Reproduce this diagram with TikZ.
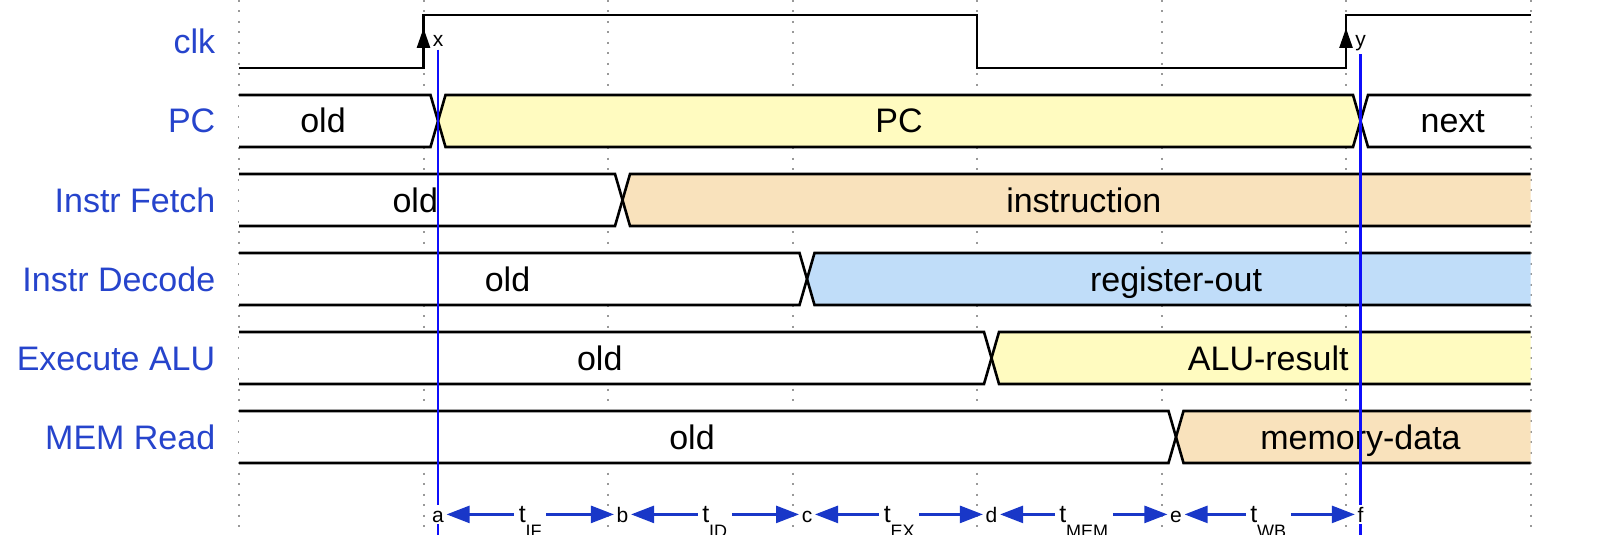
\documentclass[tikz,border=0pt]{standalone}
\usepackage{fontspec}
\setmainfont{Liberation Sans}
\usetikzlibrary{arrows.meta}

\definecolor{sigblue}{RGB}{38,68,204}
\definecolor{markblue}{RGB}{15,15,250}
\definecolor{arrblue}{RGB}{25,55,200}
\definecolor{valyellow}{RGB}{255,251,192}
\definecolor{valpeach}{RGB}{249,226,188}
\definecolor{valblue}{RGB}{192,221,249}

\newcommand{\delaysub}[1]{\raisebox{-7.5pt}[0pt][0pt]{\fontsize{9}{10}\selectfont#1}}

\tikzset{every picture/.style={line width=0.75pt}}

\begin{document}
\begin{tikzpicture}[x=0.5pt, y=-0.5pt,
    sigwave/.style={black, line width=1.3pt},
    gridline/.style={black!40, line width=1pt, dash pattern=on 1pt off 4.25pt},
    signame/.style={sigblue, anchor=base east, inner sep=0pt, font=\fontsize{17}{20}\selectfont},
    sigvalue/.style={black, anchor=base, inner sep=0pt, font=\fontsize{17}{20}\selectfont},
    edgelabel/.style={black, anchor=base, inner sep=1pt, font=\fontsize{10.5}{12}\selectfont},
    ticklabel/.style={black, fill=white, anchor=base, inner sep=1pt,
                      text height=7.6pt, text depth=0pt, font=\fontsize{10.5}{12}\selectfont},
    delaylabel/.style={black, anchor=base, inner sep=2pt,
                       text height=7.6pt, text depth=0pt, font=\fontsize{12.5}{14}\selectfont},
    markline/.style={markblue, line width=1.1pt},
    delayleft/.style={arrblue, line width=1.3pt, {Triangle[length=11.5pt,width=8.5pt]}-},
    delayright/.style={arrblue, line width=1.3pt, -{Triangle[length=11.5pt,width=8.5pt]}}]
  \useasboundingbox (0,0) rectangle (1598,556);
  \clip (0,0) rectangle (1598,534);
  \def\xL{239}
  \def\xR{1530.5}
  \def\h{7.5}
  \def\grid{184.5}

  % dotted grid
  \foreach \k in {0,...,7}
    \draw[gridline] ({\xL+\grid*\k},0) -- ({\xL+\grid*\k},560);

  % signal names
  \foreach \i/\name in {0/clk,1/PC,2/Instr Fetch,3/Instr Decode,4/Execute ALU,5/MEM Read}
    \node[signame] (sig\i) at (216,{54+79*\i}) {\name};

  % clock
  \draw[sigwave] (\xL,68) -- (423.5,68) -- (423.5,15) -- (977,15) -- (977,68)
    -- (1346,68) -- (1346,15) -- (\xR,15);
  \draw[sigwave, -{Triangle[length=10pt,width=6.5pt]}] (423.5,68) -- (423.5,28);
  \draw[sigwave, -{Triangle[length=10pt,width=6.5pt]}] (1346,68) -- (1346,28);

  % PC, two changes
  \fill[white] (\xL,95) -- (430.5,95) -- (438,121) -- (430.5,147) -- (\xL,147) -- cycle;
  \fill[valyellow] (445.5,95) -- (1353,95) -- (1360.5,121) -- (1353,147) -- (445.5,147)
    -- (438,121) -- cycle;
  \fill[white] (\xR,95) -- (1368,95) -- (1360.5,121) -- (1368,147) -- (\xR,147) -- cycle;
  \draw[sigwave] (\xL,95) -- (430.5,95) -- (445.5,147) -- (1353,147) -- (1368,95) -- (\xR,95);
  \draw[sigwave] (\xL,147) -- (430.5,147) -- (445.5,95) -- (1353,95) -- (1368,147) -- (\xR,147);
  \node[sigvalue] (old1) at (323,133) {old};
  \node[sigvalue] (pc1) at (899,133) {PC};
  \node[sigvalue] (new1) at (1452.75,133) {next};

  % stages, one change each
  \foreach \i/\xc/\col/\newval [evaluate={\ytop=16+79*\i; \ybot=\ytop+52;
                                           \ymid=\ytop+26; \ybase=\ymid+12;
                                           \xa=\xc-\h; \xb=\xc+\h;
                                           \xold=(\xc+208)/2; \xnew=(\xc+1545)/2;}]
    in {2/622.5/valpeach/instruction, 3/807/valblue/register-out,
        4/991.5/valyellow/ALU-result, 5/1176/valpeach/memory-data}{
    \fill[white] (\xL,\ytop) -- (\xa,\ytop) -- (\xc,\ymid) -- (\xa,\ybot) -- (\xL,\ybot) -- cycle;
    \fill[\col] (\xR,\ytop) -- (\xb,\ytop) -- (\xc,\ymid) -- (\xb,\ybot) -- (\xR,\ybot) -- cycle;
    \draw[sigwave] (\xL,\ytop) -- (\xa,\ytop) -- (\xb,\ybot) -- (\xR,\ybot);
    \draw[sigwave] (\xL,\ybot) -- (\xa,\ybot) -- (\xb,\ytop) -- (\xR,\ytop);
    \node[sigvalue] (old\i) at (\xold,\ybase) {old};
    \node[sigvalue] (new\i) at (\xnew,\ybase) {\newval};
  }

  % edge markers
  \node[edgelabel] (lx) at (438,47) {x};
  \node[edgelabel] (ly) at (1360.5,47) {y};
  \coordinate (abot) at (438,560);
  \coordinate (fbot) at (1360.5,560);
  \draw[markline] (lx.south) -- (abot);
  \draw[markline] (ly.south) -- (fbot);

  % stage delays
  \foreach \k/\lab in {0/a,1/b,2/c,3/d,4/e,5/f}
    \node[ticklabel] (tk\lab) at ({438+\grid*\k},522) {\lab};
  \foreach \k/\from/\to/\sub in {0/a/b/IF,1/b/c/ID,2/c/d/EX,3/d/e/MEM,4/e/f/WB}{
    \node[delaylabel] (dl\sub) at ({530.25+\grid*\k},522) {t\delaysub{\sub}};
    \draw[delayleft] (tk\from) -- (dl\sub);
    \draw[delayright] (dl\sub) -- (tk\to);
  }
\end{tikzpicture}
\end{document}
